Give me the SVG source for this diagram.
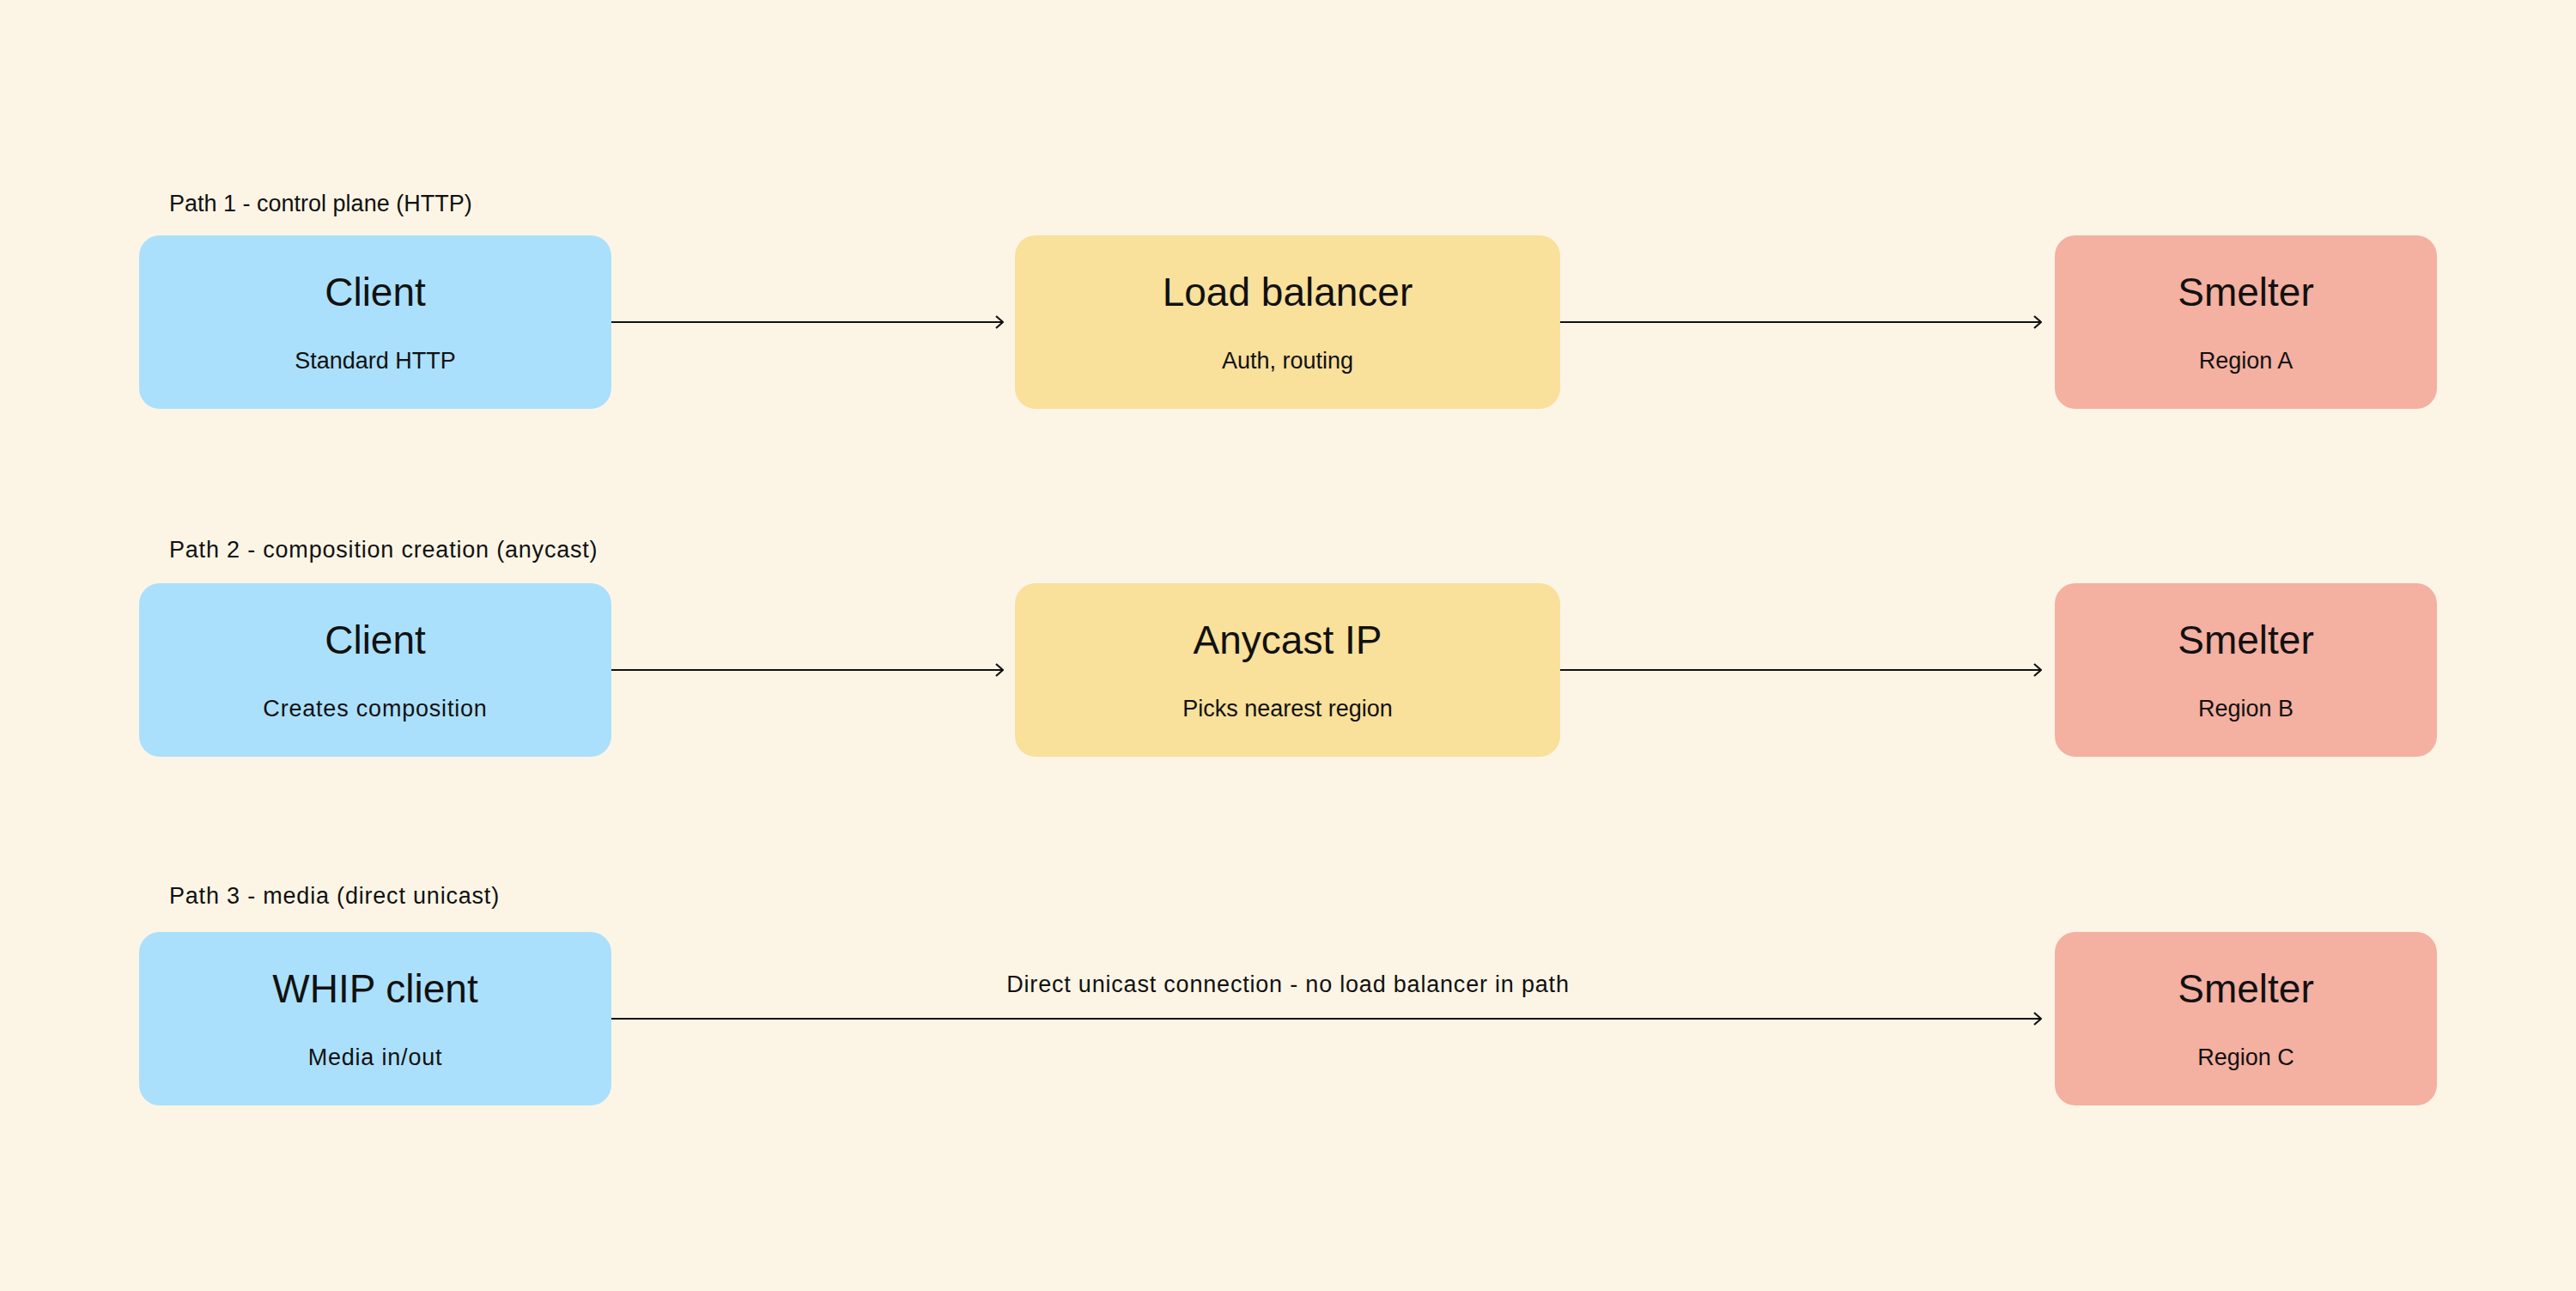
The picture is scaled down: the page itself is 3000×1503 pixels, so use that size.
<svg xmlns="http://www.w3.org/2000/svg" width="3000" height="1503" viewBox="0 0 3000 1503">
<style>
.bg{fill:#fcf5e5}
.blue{fill:#abe0fc}
.yellow{fill:#f9e09b}
.red{fill:#f4b0a1}
.t{font-family:"Liberation Sans",Arial,sans-serif;font-size:46px;fill:#111;text-anchor:middle}
.s{font-family:"Liberation Sans",Arial,sans-serif;font-size:27px;fill:#111;text-anchor:middle}
.l{font-family:"Liberation Sans",Arial,sans-serif;font-size:27px;fill:#111}
.w{letter-spacing:0.8px}
.c{stroke:#111;stroke-width:2.2;fill:none}
</style>
<defs>
<marker id="arr" viewBox="0 0 10 16" refX="9" refY="8" markerWidth="10" markerHeight="16" markerUnits="userSpaceOnUse" orient="auto">
<path d="M1,1 L9,8 L1,15" fill="none" stroke="#111" stroke-width="2.2"/>
</marker>
</defs>
<rect class="bg" x="0" y="0" width="3000" height="1503"/>
<text class="l" x="197" y="246">Path 1 - control plane (HTTP)</text>
<text class="l w" x="197" y="649">Path 2 - composition creation (anycast)</text>
<text class="l w" x="197" y="1052">Path 3 - media (direct unicast)</text>
<g id="connectors">
<line class="c" x1="712" y1="375" x2="1168" y2="375" marker-end="url(#arr)"/>
<line class="c" x1="1817" y1="375" x2="2377" y2="375" marker-end="url(#arr)"/>
<line class="c" x1="712" y1="780" x2="1168" y2="780" marker-end="url(#arr)"/>
<line class="c" x1="1817" y1="780" x2="2377" y2="780" marker-end="url(#arr)"/>
<line class="c" x1="712" y1="1186" x2="2377" y2="1186" marker-end="url(#arr)"/>
<text class="s w" x="1500" y="1155">Direct unicast connection - no load balancer in path</text>
</g>
<g id="client1">
<rect class="blue" x="162" y="274" width="550" height="202" rx="24"/>
<text class="t" x="437" y="356">Client</text>
<text class="s" x="437" y="429">Standard HTTP</text>
</g>
<g id="lb">
<rect class="yellow" x="1182" y="274" width="635" height="202" rx="24"/>
<text class="t" x="1499.5" y="356">Load balancer</text>
<text class="s" x="1499.5" y="429">Auth, routing</text>
</g>
<g id="smelterA">
<rect class="red" x="2393" y="274" width="445" height="202" rx="24"/>
<text class="t" x="2615.5" y="356">Smelter</text>
<text class="s" x="2615.5" y="429">Region A</text>
</g>
<g id="client2">
<rect class="blue" x="162" y="679" width="550" height="202" rx="24"/>
<text class="t" x="437" y="761">Client</text>
<text class="s w" x="437" y="834">Creates composition</text>
</g>
<g id="anycast">
<rect class="yellow" x="1182" y="679" width="635" height="202" rx="24"/>
<text class="t" x="1499.5" y="761">Anycast IP</text>
<text class="s" x="1499.5" y="834">Picks nearest region</text>
</g>
<g id="smelterB">
<rect class="red" x="2393" y="679" width="445" height="202" rx="24"/>
<text class="t" x="2615.5" y="761">Smelter</text>
<text class="s" x="2615.5" y="834">Region B</text>
</g>
<g id="whip">
<rect class="blue" x="162" y="1085" width="550" height="202" rx="24"/>
<text class="t" x="437" y="1167">WHIP client</text>
<text class="s w" x="437" y="1240">Media in/out</text>
</g>
<g id="smelterC">
<rect class="red" x="2393" y="1085" width="445" height="202" rx="24"/>
<text class="t" x="2615.5" y="1167">Smelter</text>
<text class="s" x="2615.5" y="1240">Region C</text>
</g>
</svg>
